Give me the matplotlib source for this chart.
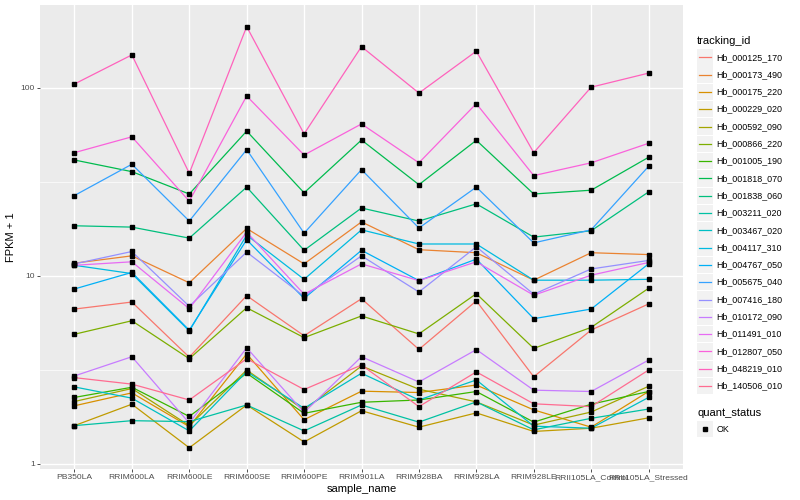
import matplotlib.pyplot as plt
import numpy as np
from matplotlib.lines import Line2D
from matplotlib.patches import Rectangle

plt.rcParams['font.family'] = ['Liberation Sans', 'DejaVu Sans']

samples = ['PB350LA', 'RRIM600LA', 'RRIM600LE', 'RRIM600SE', 'RRIM600PE', 'RRIM901LA',
           'RRIM928BA', 'RRIM928LA', 'RRIM928LE', 'RRII105LA_Control', 'RRII105LA_Stressed']

genes = ['Hb_000125_170', 'Hb_000173_490', 'Hb_000175_220', 'Hb_000229_020', 'Hb_000592_090',
         'Hb_000866_220', 'Hb_001005_190', 'Hb_001818_070', 'Hb_001838_060', 'Hb_003211_020',
         'Hb_003467_020', 'Hb_004117_310', 'Hb_004767_050', 'Hb_005675_040', 'Hb_007416_180',
         'Hb_010172_090', 'Hb_011491_010', 'Hb_012807_050', 'Hb_048219_010', 'Hb_140506_010']

# ggplot hue palette, 20 levels
colors = ['#F8766D', '#EA8331', '#D89000', '#C09B00', '#A3A500', '#7CAE00', '#39B600',
          '#00BB4E', '#00BF7D', '#00C1A3', '#00BFC4', '#00BAE0', '#00B0F6', '#35A2FF',
          '#9590FF', '#C77CFF', '#E76BF3', '#FA62DB', '#FF62BC', '#FF6C91']

# FPKM + 1 per sample
hb_000125_170 = [6.67, 7.27, 3.70, 7.86, 4.81, 7.57, 4.07, 7.37, 2.91, 5.16, 7.10]
hb_000173_490 = [11.7, 12.8, 9.2, 17.9, 11.6, 19.4, 13.8, 13.3, 9.5, 13.3, 13.0]
hb_000175_220 = [2.04, 2.39, 1.58, 3.85, 1.72, 2.44, 2.40, 2.63, 1.94, 1.57, 2.43]
hb_000229_020 = [1.60, 2.08, 1.22, 2.06, 1.31, 1.92, 1.57, 1.87, 1.49, 1.55, 1.76]
hb_000592_090 = [2.15, 2.52, 1.60, 3.16, 1.94, 3.32, 2.50, 2.14, 1.61, 1.89, 2.59]
hb_000866_220 = [4.90, 5.78, 3.63, 6.78, 4.70, 6.13, 4.92, 8.05, 4.12, 5.33, 8.60]
hb_001005_190 = [2.26, 2.56, 1.79, 3.04, 1.86, 2.13, 2.19, 2.43, 1.67, 2.08, 2.43]
hb_001818_070 = [41.4, 35.9, 27.3, 59.0, 27.7, 52.9, 30.6, 52.7, 27.3, 28.6, 42.8]
hb_001838_060 = [18.5, 18.2, 15.9, 29.7, 13.7, 23.0, 19.6, 24.2, 16.1, 17.4, 28.0]
hb_003211_020 = [1.60, 1.70, 1.68, 2.06, 1.50, 2.06, 1.67, 2.14, 1.52, 1.75, 1.96]
hb_003467_020 = [2.57, 2.24, 1.50, 3.10, 1.98, 3.04, 2.19, 2.80, 1.59, 1.55, 2.26]
hb_004117_310 = [11.4, 10.3, 5.10, 16.5, 9.6, 17.6, 14.8, 14.8, 9.5, 9.5, 9.6]
hb_004767_050 = [8.53, 10.45, 5.15, 15.6, 7.6, 13.7, 9.45, 12.3, 5.93, 6.67, 11.6]
hb_005675_040 = [26.8, 39.3, 19.6, 47.0, 16.9, 36.8, 18.0, 29.7, 15.0, 17.6, 38.3]
hb_007416_180 = [11.6, 13.5, 6.9, 13.4, 7.8, 12.8, 8.22, 14.3, 8.0, 10.9, 12.1]
hb_010172_090 = [2.94, 3.72, 1.65, 4.15, 1.88, 3.72, 2.73, 4.06, 2.47, 2.43, 3.57]
hb_011491_010 = [11.4, 11.9, 6.7, 17.1, 8.0, 11.6, 9.45, 11.9, 7.9, 10.1, 11.8]
hb_012807_050 = [45.3, 55.0, 25.0, 90.7, 44.0, 64.4, 40.0, 82.6, 34.2, 40.0, 50.8]
hb_048219_010 = [105, 150, 35.2, 212, 57, 166, 94, 157, 45.3, 101, 120]
hb_140506_010 = [2.88, 2.66, 2.19, 3.63, 2.49, 3.36, 2.02, 3.09, 2.09, 2.02, 3.16]

series = [hb_000125_170, hb_000173_490, hb_000175_220, hb_000229_020, hb_000592_090,
          hb_000866_220, hb_001005_190, hb_001818_070, hb_001838_060, hb_003211_020,
          hb_003467_020, hb_004117_310, hb_004767_050, hb_005675_040, hb_007416_180,
          hb_010172_090, hb_011491_010, hb_012807_050, hb_048219_010, hb_140506_010]

W, H = 800, 500
fig = plt.figure(figsize=(8, 5), dpi=100)
ax = fig.add_axes([40 / W, 1 - 469 / H, 643 / W, 464 / H])
ax.set_facecolor('#EBEBEB')

x = np.arange(1, len(samples) + 1)
for vals, col in zip(series, colors):
    ax.plot(x, vals, color=col, lw=0.9, zorder=3)
for vals in series:
    ax.plot(x, vals, ls='none', marker='s', ms=2.8, color='black', zorder=4)

ax.set_yscale('log')
ax.set_xlim(0.4, 11.6)
ax.set_ylim(10 ** (-5 / 188), 10 ** (459 / 188))
ax.set_yticks([1, 10, 100])
ax.set_yticklabels(['1', '10', '100'])
ax.set_yticks([10 ** 0.5, 10 ** 1.5], minor=True)
ax.yaxis.set_minor_formatter(plt.NullFormatter())
ax.set_xticks(x)
ax.set_xticklabels(samples)

ax.grid(which='major', color='white', lw=1.0, zorder=1)
ax.grid(which='minor', axis='y', color='white', lw=0.5, zorder=1)
ax.set_axisbelow(True)
for s in ax.spines.values():
    s.set_visible(False)
ax.tick_params(which='major', length=2.2, width=0.6, color='#333333',
               labelsize=6.1, labelcolor='#4D4D4D', pad=1.5)
ax.tick_params(which='minor', length=0)

ax.set_xlabel('sample_name', fontsize=8, labelpad=2)
ax.set_ylabel('FPKM + 1', fontsize=8, labelpad=3)

# legend, drawn in figure pixel coords
def fx(px):
    return px / W

def fy(py):
    return 1 - py / H

fig.text(fx(697), fy(40.5), 'tracking_id', fontsize=8, va='center', ha='left')
step = 17.3
for i, (g, col) in enumerate(zip(genes, colors)):
    yc = 57.3 + i * step
    fig.patches.append(Rectangle((fx(697), fy(yc + 8.2)), 16 / W, 16.4 / H,
                                 transform=fig.transFigure, facecolor='#F2F2F2',
                                 edgecolor='none'))
    fig.lines.append(Line2D([fx(699), fx(711)], [fy(yc), fy(yc)], color=col, lw=0.9,
                            transform=fig.transFigure))
    fig.text(fx(716.5), fy(yc), g, fontsize=6.4, va='center', ha='left')

fig.text(fx(697), fy(412.5), 'quant_status', fontsize=8, va='center', ha='left')
fig.patches.append(Rectangle((fx(697), fy(429 + 8.2)), 16 / W, 16.4 / H,
                             transform=fig.transFigure, facecolor='#F2F2F2', edgecolor='none'))
fig.lines.append(Line2D([fx(705)], [fy(429)], ls='none', marker='s', ms=2.8, color='black',
                        transform=fig.transFigure))
fig.text(fx(716.5), fy(429), 'OK', fontsize=6.4, va='center', ha='left')

fig.savefig('out.png', dpi=100)
